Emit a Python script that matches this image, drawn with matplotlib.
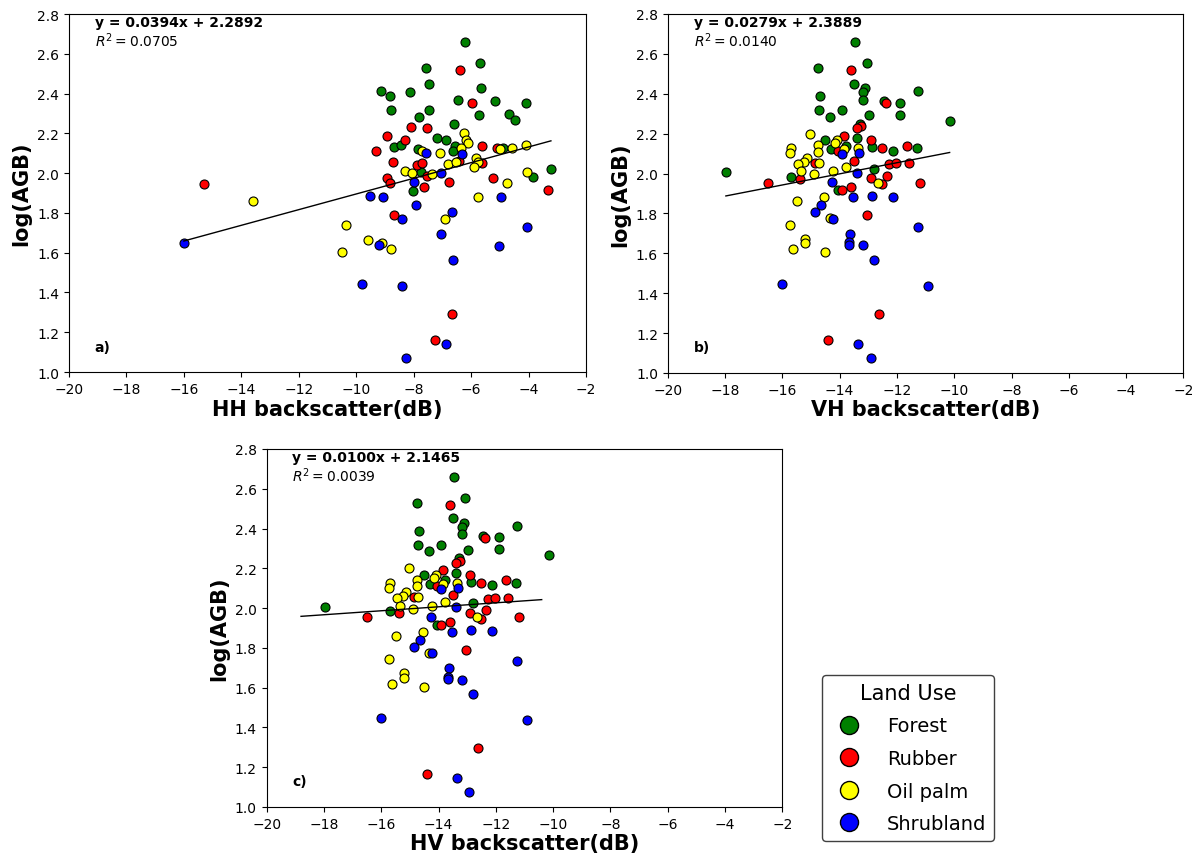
import matplotlib.pyplot as plt
from matplotlib.lines import Line2D

land_use = ['Forest', 'Rubber', 'Oil palm', 'Shrubland']
colors = ['green', 'red', 'yellow', 'blue']

# HH backscatter (dB) and log(AGB) per land use
hh_forest_x = [-6.21, -5.68, -7.57, -7.48, -9.15, -8.82, -8.14, -5.67, -6.46, -5.18,
               -4.07, -8.77, -7.48, -7.82, -5.72, -4.69, -4.46, -6.61, -7.20, -6.86,
               -8.69, -8.44, -7.85, -6.55, -6.64, -4.89, -7.74, -8.03, -3.84, -3.22]
hh_forest_y = [2.658, 2.552, 2.527, 2.450, 2.413, 2.388, 2.406, 2.426, 2.369, 2.363,
               2.354, 2.317, 2.319, 2.282, 2.291, 2.296, 2.266, 2.248, 2.175, 2.167,
               2.131, 2.143, 2.121, 2.136, 2.113, 2.128, 2.006, 1.912, 1.980, 2.022]
hh_rubber_x = [-6.38, -5.97, -8.08, -7.52, -8.91, -8.29, -9.31, -5.61, -5.10, -8.72,
               -7.89, -7.71, -6.42, -5.61, -7.52, -8.93, -8.82, -6.76, -7.63, -5.25,
               -3.32, -8.69, -6.66, -7.25, -15.29]
hh_rubber_y = [2.517, 2.353, 2.233, 2.228, 2.188, 2.167, 2.110, 2.138, 2.128, 2.054,
               2.042, 2.051, 2.062, 2.051, 1.984, 1.974, 1.950, 1.954, 1.930, 1.974,
               1.914, 1.788, 1.293, 1.161, 1.944]
hh_palm_x = [-6.23, -6.19, -6.12, -7.70, -7.07, -6.35, -4.98, -4.58, -4.07, -6.82,
             -6.52, -5.83, -5.76, -5.91, -8.29, -8.06, -7.35, -4.74, -4.05, -5.75,
             -6.91, -10.36, -10.50, -9.59, -9.10, -8.77, -13.60]
hh_palm_y = [2.200, 2.167, 2.151, 2.110, 2.101, 2.126, 2.121, 2.126, 2.140, 2.047,
             2.054, 2.077, 2.057, 2.031, 2.011, 1.999, 1.996, 1.952, 2.007, 1.880,
             1.771, 1.741, 1.602, 1.665, 1.649, 1.617, 1.858]
hh_shrub_x = [-7.56, -6.31, -7.03, -7.98, -9.52, -9.05, -4.95, -7.90, -8.40, -6.66,
              -7.05, -6.62, -4.04, -5.02, -9.21, -9.79, -8.41, -6.86, -8.27, -16.00]
hh_shrub_y = [2.101, 2.095, 1.999, 1.954, 1.886, 1.880, 1.882, 1.840, 1.769, 1.803,
              1.694, 1.565, 1.729, 1.635, 1.639, 1.443, 1.434, 1.141, 1.069, 1.647]

# VH backscatter (dB) and log(AGB) per land use
vh_forest_x = [-17.97, -13.47, -13.06, -14.75, -13.51, -13.12, -13.17, -13.18, -14.67, -11.26,
               -12.44, -11.89, -11.89, -14.73, -13.90, -14.34, -12.96, -13.29, -14.51, -13.77,
               -13.39, -14.31, -12.86, -12.15, -11.31, -15.68, -12.80, -14.04, -10.16]
vh_forest_y = [2.006, 2.658, 2.553, 2.528, 2.451, 2.427, 2.407, 2.370, 2.389, 2.412,
               2.364, 2.355, 2.295, 2.319, 2.319, 2.285, 2.292, 2.250, 2.166, 2.140,
               2.177, 2.123, 2.133, 2.115, 2.128, 1.983, 2.024, 1.917, 2.265]
vh_rubber_x = [-13.60, -12.38, -13.24, -13.38, -13.84, -12.89, -14.07, -12.51, -11.64, -14.86,
               -13.50, -12.28, -12.02, -11.58, -15.38, -12.89, -12.35, -16.51, -12.52, -11.19,
               -13.60, -13.90, -13.03, -12.61, -14.42]
vh_rubber_y = [2.518, 2.354, 2.237, 2.228, 2.190, 2.168, 2.113, 2.128, 2.140, 2.054,
               2.064, 2.048, 2.053, 2.053, 1.973, 1.976, 1.988, 1.953, 1.946, 1.954,
               1.932, 1.916, 1.790, 1.297, 1.165]
vh_palm_x = [-15.04, -14.10, -14.17, -14.75, -15.68, -15.74, -14.75, -13.86, -13.36, -15.15,
             -15.25, -15.46, -14.72, -13.77, -15.36, -14.89, -14.22, -12.66, -15.49, -14.53,
             -14.35, -15.73, -15.22, -15.22, -15.63, -14.52]
vh_palm_y = [2.200, 2.166, 2.153, 2.141, 2.126, 2.103, 2.110, 2.121, 2.128, 2.080,
             2.060, 2.049, 2.054, 2.033, 2.011, 1.996, 2.011, 1.954, 1.861, 1.881,
             1.775, 1.744, 1.672, 1.650, 1.620, 1.605]
vh_shrub_x = [-13.92, -13.31, -13.38, -14.25, -14.64, -13.53, -12.88, -12.14, -14.87, -14.22,
              -11.26, -13.64, -13.67, -13.66, -13.17, -12.80, -16.00, -10.92, -13.36, -12.92]
vh_shrub_y = [2.096, 2.101, 2.003, 1.956, 1.842, 1.881, 1.889, 1.884, 1.805, 1.772,
              1.733, 1.697, 1.655, 1.641, 1.640, 1.568, 1.446, 1.438, 1.145, 1.073]

# the HV panel shows the same points as VH
hv_forest_x, hv_forest_y = vh_forest_x, vh_forest_y
hv_rubber_x, hv_rubber_y = vh_rubber_x, vh_rubber_y
hv_palm_x, hv_palm_y = vh_palm_x, vh_palm_y
hv_shrub_x, hv_shrub_y = vh_shrub_x, vh_shrub_y
hv_range = [-18.8, -10.4]

slopes = [0.0394, 0.0279, 0.0100]
intercepts = [2.2892, 2.3889, 2.1465]
r2 = [0.0705, 0.0140, 0.0039]
xlabels = ['HH backscatter(dB)', 'VH backscatter(dB)', 'HV backscatter(dB)']
tags = ['a)', 'b)', 'c)']

panels = [
    [(hh_forest_x, hh_forest_y), (hh_rubber_x, hh_rubber_y),
     (hh_palm_x, hh_palm_y), (hh_shrub_x, hh_shrub_y)],
    [(vh_forest_x, vh_forest_y), (vh_rubber_x, vh_rubber_y),
     (vh_palm_x, vh_palm_y), (vh_shrub_x, vh_shrub_y)],
    [(hv_forest_x, hv_forest_y), (hv_rubber_x, hv_rubber_y),
     (hv_palm_x, hv_palm_y), (hv_shrub_x, hv_shrub_y)],
]

fig = plt.figure(figsize=(11.99, 8.54), dpi=100)
boxes = [[0.0575, 0.5632, 0.4312, 0.4192],
         [0.5569, 0.5621, 0.4301, 0.4204],
         [0.2224, 0.0539, 0.4301, 0.4192]]

for i, groups in enumerate(panels):
    ax = fig.add_axes(boxes[i])
    for (xs, ys), c in zip(groups, colors):
        ax.scatter(xs, ys, s=42, c=c, edgecolors='black', linewidths=0.8, zorder=2)

    # fitted line over the data range
    if i < 2:
        all_x = [v for xs, _ in groups for v in xs]
        x0, x1 = min(all_x), max(all_x)
    else:
        x0, x1 = hv_range
    ax.plot([x0, x1], [slopes[i] * x0 + intercepts[i], slopes[i] * x1 + intercepts[i]],
            color='black', lw=1, zorder=3)

    ax.text(0.05, 0.997, f'y = {slopes[i]:.4f}x + {intercepts[i]:.4f}',
            transform=ax.transAxes, fontsize=10, fontweight='bold', va='top')
    ax.text(0.05, 0.955, f'$R^2 = {r2[i]:.4f}$', transform=ax.transAxes,
            fontsize=10, va='top')
    ax.text(0.05, 0.06, tags[i], transform=ax.transAxes, fontsize=10,
            fontweight='bold')

    ax.set_xlim(-20, -2)
    ax.set_ylim(1.0, 2.8)
    ax.set_xticks(range(-20, -1, 2))
    ax.set_xlabel(xlabels[i], fontsize=15, fontweight='bold', labelpad=2)
    ax.set_ylabel('log(AGB)', fontsize=15, fontweight='bold')

handles = [Line2D([], [], marker='o', ls='', markersize=13, markerfacecolor=c,
                  markeredgecolor='black', label=l) for c, l in zip(colors, land_use)]
leg = fig.legend(handles=handles, title='Land Use', loc='upper left',
                 bbox_to_anchor=(822 / 1199, 1 - 676 / 854), borderaxespad=0,
                 fontsize=14, title_fontsize=15, edgecolor='0.25', framealpha=1,
                 handletextpad=0.95, labelspacing=0.7)
leg.get_frame().set_linewidth(1)

fig.savefig('out.png', dpi=100)
